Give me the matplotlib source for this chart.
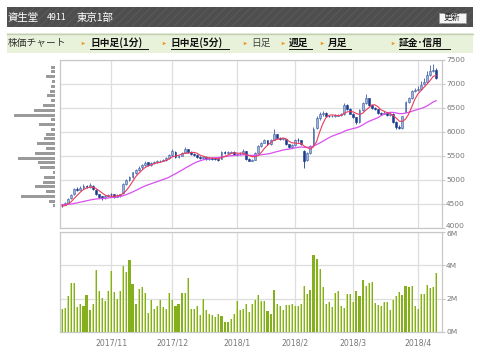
import matplotlib.pyplot as plt
import matplotlib.transforms as mtransforms
import numpy as np
import pandas as pd
from matplotlib.patches import Rectangle

plt.rcParams['font.family'] = ['Noto Sans CJK JP', 'DejaVu Sans']
plt.rcParams['hatch.linewidth'] = 0.6

# ── Data (daily, 2017/10/10 - 2018/4/10) ─────────────────────────────────────
opens = [4480, 4470, 4520, 4610, 4690, 4810, 4790, 4820, 4870, 4840,
         4870, 4790, 4690, 4650, 4610, 4650, 4700, 4690, 4640, 4660,
         4720, 4900, 4990, 5060, 5140, 5200, 5260, 5300, 5360, 5310,
         5340, 5360, 5380, 5400, 5420, 5450, 5520, 5580, 5470, 5500,
         5560, 5640, 5580, 5540, 5520, 5470, 5450, 5480, 5430, 5450,
         5440, 5430, 5440, 5570, 5550, 5560, 5580, 5520, 5530, 5540,
         5590, 5430, 5400, 5420, 5560, 5700, 5770, 5820, 5740, 5830,
         5950, 5880, 5850, 5840, 5740, 5680, 5720, 5830, 5820, 5600,
         5420, 5560, 5750, 6080, 6280, 6380, 6400, 6330, 6320, 6330,
         6340, 6350, 6370, 6550, 6480, 6380, 6300, 6200, 6450, 6600,
         6700, 6550, 6500, 6470, 6400, 6380, 6400, 6350, 6380, 6200,
         6100, 6080, 6420, 6620, 6700, 6850, 6880, 6900, 6990, 7050,
         7180, 7260, 7300]
highs = [4490, 4530, 4620, 4700, 4830, 4840, 4860, 4900, 4890, 4920,
         4880, 4800, 4710, 4660, 4680, 4700, 4730, 4700, 4690, 4710,
         4920, 5020, 5080, 5170, 5230, 5280, 5320, 5380, 5370, 5360,
         5380, 5410, 5420, 5440, 5470, 5540, 5640, 5590, 5520, 5580,
         5680, 5650, 5600, 5560, 5530, 5490, 5500, 5490, 5470, 5470,
         5460, 5450, 5590, 5590, 5590, 5600, 5590, 5560, 5570, 5630,
         5600, 5450, 5440, 5580, 5720, 5790, 5850, 5830, 5840, 6050,
         5960, 5900, 5880, 5850, 5750, 5740, 5850, 5870, 5830, 5620,
         5580, 5720, 6100, 6320, 6420, 6430, 6410, 6360, 6360, 6370,
         6380, 6390, 6600, 6580, 6490, 6400, 6310, 6470, 6630, 6780,
         6710, 6570, 6520, 6480, 6420, 6430, 6410, 6410, 6390, 6220,
         6150, 6340, 6640, 6720, 6870, 6910, 6960, 7070, 7130, 7260,
         7400, 7420, 7330]
lows = [4430, 4460, 4510, 4590, 4680, 4760, 4780, 4810, 4820, 4830,
        4780, 4680, 4620, 4580, 4600, 4630, 4640, 4620, 4630, 4640,
        4710, 4890, 4970, 5040, 5120, 5180, 5230, 5290, 5280, 5290,
        5320, 5340, 5360, 5380, 5400, 5440, 5500, 5450, 5450, 5490,
        5550, 5560, 5520, 5500, 5450, 5430, 5440, 5410, 5420, 5420,
        5410, 5400, 5430, 5540, 5540, 5550, 5510, 5500, 5510, 5530,
        5410, 5380, 5380, 5410, 5550, 5690, 5760, 5720, 5730, 5820,
        5860, 5830, 5820, 5720, 5660, 5670, 5710, 5780, 5720, 5250,
        5400, 5540, 5730, 6060, 6250, 6340, 6300, 6300, 6310, 6310,
        6320, 6330, 6360, 6460, 6370, 6280, 6170, 6190, 6440, 6580,
        6530, 6480, 6450, 6380, 6360, 6370, 6330, 6340, 6180, 6060,
        6050, 6060, 6410, 6600, 6690, 6830, 6860, 6880, 6970, 7040,
        7170, 7250, 7100]
closes = [4460, 4510, 4600, 4680, 4800, 4790, 4830, 4860, 4850, 4880,
          4800, 4700, 4640, 4610, 4650, 4680, 4690, 4640, 4660, 4690,
          4900, 4990, 5060, 5150, 5200, 5250, 5300, 5350, 5310, 5340,
          5360, 5390, 5400, 5420, 5450, 5520, 5600, 5470, 5500, 5560,
          5650, 5580, 5540, 5520, 5470, 5450, 5480, 5430, 5450, 5440,
          5430, 5420, 5570, 5560, 5570, 5580, 5520, 5540, 5545, 5600,
          5430, 5400, 5420, 5560, 5700, 5770, 5820, 5740, 5820, 5950,
          5880, 5850, 5855, 5740, 5680, 5720, 5830, 5820, 5740, 5380,
          5560, 5700, 6050, 6280, 6380, 6400, 6330, 6320, 6340, 6340,
          6350, 6360, 6550, 6480, 6380, 6300, 6200, 6450, 6600, 6700,
          6550, 6500, 6470, 6400, 6380, 6400, 6350, 6380, 6200, 6100,
          6080, 6320, 6620, 6700, 6850, 6880, 6880, 6980, 7050, 7180,
          7260, 7300, 7120]
# closes before the window, only used for the moving averages
pre_closes = [4480, 4500, 4520, 4490, 4470, 4460, 4500, 4530, 4510, 4480,
              4470, 4490, 4520, 4510, 4490, 4470, 4460, 4480, 4470, 4450,
              4440, 4430, 4450, 4440]
volume_m = [1.37, 1.47, 2.14, 2.93, 2.93, 1.50, 1.70, 1.54, 2.20, 1.33,
            1.70, 3.70, 2.44, 2.04, 1.88, 2.48, 3.66, 2.40, 1.96, 2.48,
            3.98, 3.60, 4.32, 2.89, 1.66, 2.59, 2.73, 2.36, 1.15, 1.90,
            1.41, 1.58, 1.90, 1.52, 1.37, 2.36, 1.94, 1.58, 1.66, 2.36,
            2.36, 3.23, 1.39, 1.39, 1.56, 1.03, 1.98, 1.31, 1.07, 1.03,
            0.93, 1.07, 0.95, 0.61, 0.61, 0.79, 1.07, 1.86, 1.31, 1.37,
            1.70, 1.19, 1.70, 1.90, 2.24, 1.86, 1.86, 1.27, 1.11, 2.53,
            1.70, 1.54, 1.33, 1.64, 1.64, 1.70, 1.54, 1.58, 1.70, 2.77,
            2.28, 2.53, 4.65, 4.40, 3.76, 2.73, 1.70, 1.78, 1.50, 2.36,
            2.48, 1.54, 1.45, 2.28, 2.28, 1.82, 2.48, 2.14, 3.11, 2.77,
            2.93, 3.01, 1.74, 1.62, 1.54, 1.78, 1.78, 1.33, 1.94, 2.18,
            2.38, 2.24, 2.77, 2.69, 2.77, 1.58, 1.41, 2.30, 2.28, 2.81,
            2.67, 2.69, 3.56]
month_labels = ['2017/11', '2017/12', '2018/1', '2018/2', '2018/3', '2018/4']
month_idx = [16, 36, 57, 76, 95, 116]
# price-by-volume profile, 100-yen bins (top bin first), relative size
profile_bins = [7350, 7250, 7150, 7050, 6950, 6850, 6750, 6650, 6550, 6450,
                6350, 6250, 6150, 6050, 5950, 5850, 5750, 5650, 5550, 5450,
                5350, 5250, 5150, 5050, 4950, 4850, 4750, 4650, 4550, 4450]
profile_vol = [3.7, 3.7, 8.7, 2.7, 3.7, 4.3, 7.3, 3.7, 11.7, 21.0,
               41.0, 3.7, 15.7, 3.7, 9.0, 11.0, 17.7, 8.3, 20.0, 36.3,
               16.3, 14.3, 1.7, 10.3, 11.7, 19.3, 8.3, 33.7, 5.7, 1.7]
price_ticks = [4000, 4500, 5000, 5500, 6000, 6500, 7000, 7500]
vol_ticks = [0, 2, 4, 6]
vol_labels = ['0M', '2M', '4M', '6M']

# ── Style ─────────────────────────────────────────────────────────────────────
UP_FACE = "#9db3da"
UP_EDGE = "#3d5fa6"
DOWN = "#1c3a8e"
MA5_C = "#ec3b5c"
MA25_C = "#d84ff0"
VOL_DARK = "#83b01c"
VOL_LIGHT = "#c8e08c"
GRID = "#dedede"
FRAME = "#c8c8c8"
TICK_C = "#777777"

W, H = 480, 361
fig = plt.figure(figsize=(W / 100, H / 100), dpi=100)


def box(x0, y0, x1, y1):
    return [x0 / W, 1 - y1 / H, (x1 - x0) / W, (y1 - y0) / H]


# ── Header / navigation (pixel overlay) ──────────────────────────────────────
ov = fig.add_axes([0, 0, 1, 1], zorder=-1)
ov.set_xlim(0, W)
ov.set_ylim(H, 0)
ov.axis("off")

ov.add_patch(Rectangle((7, 7), 466, 20, facecolor="#4e4e4e", edgecolor="#5c5c5c",
                       hatch="////", lw=0))
ov.text(8, 17.5, "資生堂", color="white", fontsize=7.5, va="center")
ov.text(47, 17.5, "4911", color="white", fontsize=6.3, va="center")
ov.text(77, 17.5, "東京1部", color="white", fontsize=7.5, va="center")
ov.add_patch(Rectangle((439, 12.5), 27, 10, facecolor="#f6f6f6", edgecolor="#9a9a9a", lw=0.6))
ov.text(452.5, 17.8, "更新", color="#222222", fontsize=6, ha="center", va="center")

ov.add_patch(Rectangle((7, 33), 466, 20, facecolor="#e8f2da", lw=0))
ov.plot([7, 473], [33.5, 33.5], color="#c3ceb4", lw=1)
ov.text(8, 43, "株価チャート", color="#333333", fontsize=7, va="center")

nav = [("日中足(1分)", 83, 90, 148, True),
       ("日中足(5分)", 164, 171, 229, True),
       ("日足", 245, 251, 272, False),
       ("週足", 283, 289, 312, True),
       ("月足", 322, 328, 351, True),
       ("証金･信用", 393, 399, 450, True)]
for label, ax_, x0, x1, link in nav:
    ov.plot(ax_, 43, marker=">", color="#f09a2a", ms=2.5, mec="none")
    ov.text(x0, 43, label, color="#111111" if link else "#444444", fontsize=7,
            va="center", fontweight="bold" if link else "normal")
    if link:
        ov.plot([x0, x1], [49, 49], color="#111111", lw=0.7)

# ── Price panel ───────────────────────────────────────────────────────────────
n = len(closes)
x = np.arange(n)
o = np.array(opens, float)
c = np.array(closes, float)
hi = np.array(highs, float)
lo = np.array(lows, float)

all_c = pd.Series(pre_closes + closes, dtype=float)
ma5 = all_c.rolling(5).mean().to_numpy()[-n:]
ma25 = all_c.rolling(25).mean().to_numpy()[-n:]

XLIM = (-0.65, 123.9)
ax = fig.add_axes(box(60, 60, 442, 227.5))
ax.set_xlim(*XLIM)
ax.set_ylim(4000, 7500)

up = c >= o
ax.vlines(x[up], lo[up], hi[up], color=UP_EDGE, lw=0.6, zorder=3)
ax.vlines(x[~up], lo[~up], hi[~up], color=DOWN, lw=0.6, zorder=3)
body = np.maximum(np.abs(c - o), 15)
ax.bar(x[up], body[up], bottom=np.minimum(o, c)[up], width=0.62,
       color=UP_FACE, edgecolor=UP_EDGE, lw=0.4, zorder=4)
ax.bar(x[~up], body[~up], bottom=np.minimum(o, c)[~up], width=0.62,
       color=DOWN, edgecolor=DOWN, lw=0.4, zorder=4)
ax.plot(x, ma25, color=MA25_C, lw=0.9, zorder=5)
ax.plot(x, ma5, color=MA5_C, lw=0.8, zorder=6)

ax.set_yticks(price_ticks)
ax.set_xticks(month_idx)
ax.set_xticklabels([])
ax.yaxis.tick_right()

# ── Volume panel ──────────────────────────────────────────────────────────────
axv = fig.add_axes(box(60, 232, 442, 332))
axv.set_xlim(*XLIM)
axv.set_ylim(0, 6)
axv.bar(x, volume_m, width=0.68, color=VOL_DARK, lw=0, zorder=3)
axv.bar(x - 0.17, volume_m, width=0.26, color=VOL_LIGHT, lw=0, zorder=4)
axv.set_yticks(vol_ticks)
axv.set_yticklabels(vol_labels)
axv.set_xticks(month_idx)
axv.set_xticklabels(month_labels)
axv.yaxis.tick_right()

for a in (ax, axv):
    a.grid(True, color=GRID, lw=0.9, zorder=0)
    a.set_axisbelow(True)
    for s in a.spines.values():
        s.set_color(FRAME)
        s.set_linewidth(0.9)
    a.tick_params(axis="y", length=2, width=0.8, color=FRAME, pad=1,
                  labelsize=5.4, labelcolor=TICK_C)
    a.tick_params(axis="x", length=0, pad=4.5, labelsize=5.6, labelcolor=TICK_C)
for lab in ax.get_yticklabels() + axv.get_yticklabels():
    lab.set_fontfamily("DejaVu Sans")
for lab in axv.get_xticklabels():
    lab.set_fontfamily("DejaVu Sans")

# 4000 and 6M sit right next to each other: nudge them apart a little
lab4000 = ax.get_yticklabels()[0]
lab4000.set_transform(lab4000.get_transform() +
                      mtransforms.ScaledTranslation(0, 0.025, fig.dpi_scale_trans))
lab6m = axv.get_yticklabels()[-1]
lab6m.set_transform(lab6m.get_transform() +
                    mtransforms.ScaledTranslation(0, -0.015, fig.dpi_scale_trans))

# ── Price-by-volume profile ───────────────────────────────────────────────────
axp = fig.add_axes(box(10, 60, 54.5, 227.5))
axp.set_ylim(4000, 7500)
axp.set_xlim(44.5, 0)
axp.barh(profile_bins, profile_vol, height=62, color="#9a9a9a", lw=0)
axp.axis("off")

fig.savefig("out.png", dpi=100)
